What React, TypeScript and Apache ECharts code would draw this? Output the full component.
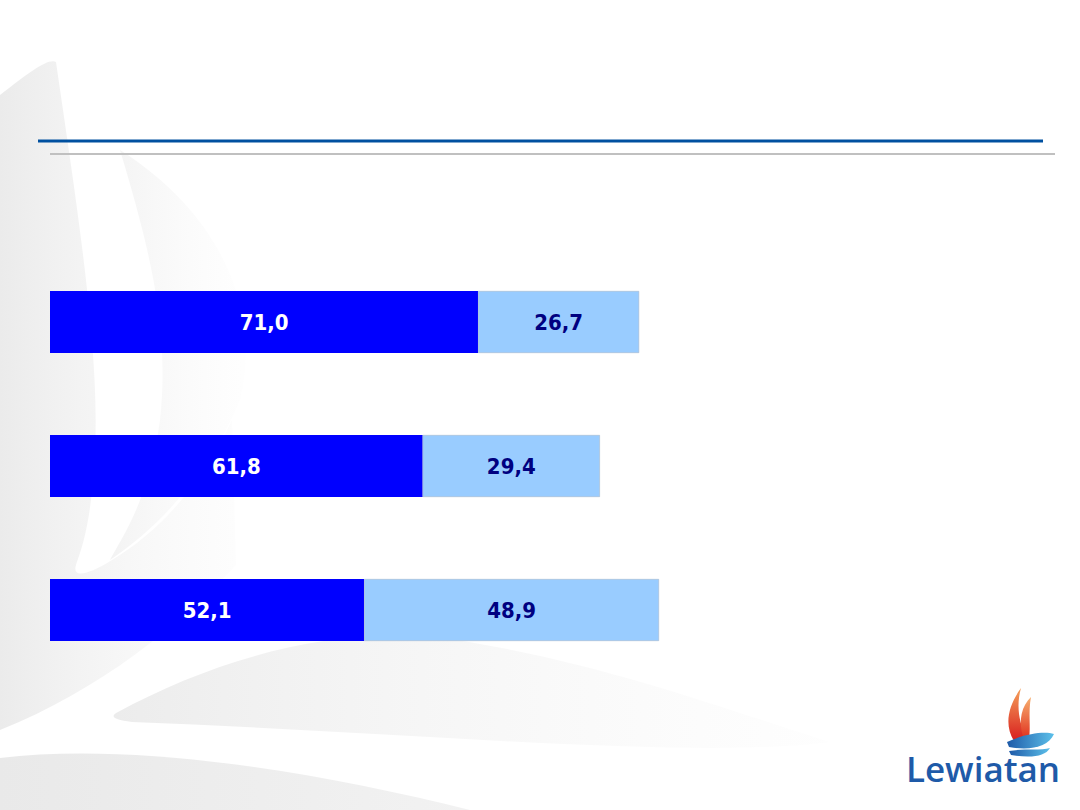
import React, { useEffect, useRef } from "react";
import * as echarts from "echarts";

const categories = ["A", "B", "C"];
const seriesDark = [71.0, 61.8, 52.1];
const seriesLight = [26.7, 29.4, 48.9];

const fmt = (v: number) => v.toFixed(1).replace(".", ",");

let registered = false;
function registerShapes() {
  if (registered) return;
  registered = true;
  const reg = (name: string, d: string) =>
    echarts.graphic.registerShape(name, echarts.graphic.extendPath(d, {}) as any);
  reg("bgLeaf", "M0,95 C30,72 48,58 56,62 C76,200 100,350 95,450 C92,520 82,548 76,565 C72,578 86,576 112,560 C165,528 205,478 232,420 L236,565 C180,625 100,690 0,730 Z");
  reg("bgSwoosh", "M118,712 C210,662 335,622 455,640 C605,662 750,718 830,742 C700,760 400,732 132,722 C112,720 110,716 118,712 Z");
  reg("bgBottom", "M0,758 C130,742 310,770 470,810 L0,810 Z");
  reg("bgMid", "M120,150 C150,250 170,330 160,420 C150,500 120,540 110,560 C170,520 215,460 240,400 C260,320 230,220 120,150 Z");
  reg("flame1", "M1014,741 C1004,725 1008,706 1021,688 C1016,706 1019,722 1026,737 Z");
  reg("flame2", "M1023,737 C1018,719 1022,706 1031,697 C1028,713 1031,726 1029,739 Z");
  reg("wave1", "M1007,742 C1024,734 1044,731 1054,734 C1048,747 1030,751 1009,747 Z");
  reg("wave2", "M1009,751 C1026,748 1042,751 1050,748 C1045,757 1030,758 1011,755 Z");
}

const labelBase = {
  show: true,
  position: "inside",
  fontFamily: "'DejaVu Sans Condensed', 'DejaVu Sans', sans-serif",
  fontWeight: "bold",
  fontSize: 22,
  letterSpacing: -1.5,
};

export default function App() {
  const ref = useRef<HTMLDivElement>(null);
  useEffect(() => {
    if (!ref.current) return;
    registerShapes();
    const chart = echarts.init(ref.current, undefined, { renderer: "svg" });
    chart.setOption({
      animation: false,
      backgroundColor: "#ffffff",
      grid: { left: 50, top: 250, width: 603, height: 432, containLabel: false },
      xAxis: { type: "value", min: 0, max: 100, show: false },
      yAxis: {
        type: "category",
        data: categories,
        inverse: true,
        show: false,
      },
      graphic: [
        {
          type: "bgMid",
          z: -10,
          style: {
            fill: { type: "linear", x: 0, y: 0, x2: 1, y2: 0, colorStops: [{ offset: 0, color: "rgba(240,240,240,0.8)" }, { offset: 1, color: "rgba(252,252,252,0.3)" }] },
          },
        },
        {
          type: "bgLeaf",
          z: -10,
          style: {
            fill: { type: "linear", x: 0, y: 0, x2: 1, y2: 0, colorStops: [{ offset: 0, color: "#ebebeb" }, { offset: 1, color: "rgba(250,250,250,0.4)" }] },
          },
        },
        {
          type: "bgSwoosh",
          z: -10,
          style: {
            fill: { type: "linear", x: 0, y: 0, x2: 1, y2: 0, colorStops: [{ offset: 0, color: "#ececec" }, { offset: 1, color: "rgba(252,252,252,0.4)" }] },
          },
        },
        {
          type: "bgBottom",
          z: -10,
          style: {
            fill: { type: "linear", x: 0, y: 0, x2: 1, y2: 0, colorStops: [{ offset: 0, color: "#e9e9e9" }, { offset: 1, color: "#f2f2f2" }] },
          },
        },
        { type: "rect", shape: { x: 38, y: 139.5, width: 1005, height: 3 }, style: { fill: "#0050a0" } },
        { type: "rect", shape: { x: 50, y: 153, width: 1005, height: 2 }, style: { fill: "#c0c0c0" } },
        {
          type: "flame1",
          style: { fill: { type: "linear", x: 0, y: 1, x2: 0, y2: 0, colorStops: [{ offset: 0, color: "#d81e1e" }, { offset: 1, color: "#f5a05a" }] } },
        },
        {
          type: "flame2",
          style: { fill: { type: "linear", x: 0, y: 1, x2: 0, y2: 0, colorStops: [{ offset: 0, color: "#e0301e" }, { offset: 1, color: "#f7b070" }] } },
        },
        {
          type: "wave1",
          style: { fill: { type: "linear", x: 0, y: 0, x2: 1, y2: 0, colorStops: [{ offset: 0, color: "#1e5aa8" }, { offset: 1, color: "#5cc0ea" }] } },
        },
        {
          type: "wave2",
          style: { fill: { type: "linear", x: 0, y: 0, x2: 1, y2: 0, colorStops: [{ offset: 0, color: "#1e5aa8" }, { offset: 1, color: "#5cc0ea" }] } },
        },
        {
          type: "text",
          style: {
            text: "Lewiatan",
            x: 983,
            y: 768,
            align: "center",
            verticalAlign: "middle",
            fill: "#1e5aa8",
            font: "600 35px 'Open Sans', 'Noto Sans', sans-serif",
          },
        },
      ],
      series: [
        {
          type: "bar",
          stack: "total",
          data: seriesDark,
          barWidth: 62,
          clip: false,
          itemStyle: { color: "#0000ff" },
          label: { ...labelBase, color: "#ffffff", formatter: (p: any) => fmt(p.value) },
        },
        {
          type: "bar",
          stack: "total",
          data: seriesLight,
          barWidth: 62,
          clip: false,
          itemStyle: { color: "#99ccff", borderColor: "#a8b8cc", borderWidth: 0.6 },
          label: { ...labelBase, color: "#000080", formatter: (p: any) => fmt(p.value) },
        },
      ],
    });
    return () => chart.dispose();
  }, []);
  return (
    <div
      ref={ref}
      style={{ position: "fixed", left: 0, top: 0, width: 1080, height: 810 }}
    />
  );
}
